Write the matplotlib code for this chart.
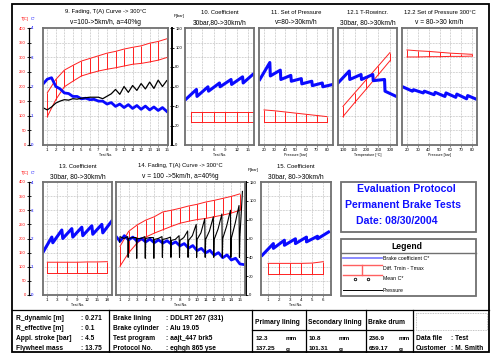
import numpy as np
import matplotlib
matplotlib.use("Agg")
import matplotlib.pyplot as plt
from matplotlib.patches import Rectangle

plt.rcParams['font.family'] = ['Liberation Sans', 'DejaVu Sans']

W, H = 495, 353
RED = '#ff2020'
BLUE = '#0a0aff'

# ---------------- data ----------------
# 9. fading, T(A) curve -> 300 C  (T in C, coefficient C*, pressure in bar)
p9_tests = list(range(1, 16))
p9_tmax = [178, 224, 256, 272, 287, 296, 305, 314, 320, 328, 334, 339, 348, 354, 363]
p9_tmin = [97, 155, 199, 218, 236, 245, 253, 259, 264, 270, 276, 279, 284, 290, 299]
p9_x = [0.55, 1, 1.5, 2, 2.5, 3, 3.5, 4, 4.5, 5, 5.5, 6, 6.5, 7, 7.5, 8,
        8.5, 9, 9.5, 10, 10.5, 11, 11.5, 12, 12.5, 13, 13.5, 14, 14.5, 15]
p9_coef = [2.1, 2.25, 2.3, 2.0, 1.92, 1.78, 1.76, 1.66, 1.66, 1.58, 1.6, 1.55,
           1.56, 1.5, 1.5, 1.4, 1.45, 1.32, 1.4, 1.28, 1.38, 1.25, 1.35, 1.22,
           1.33, 1.2, 1.3, 1.18, 1.28, 1.15]
p9_press = [38, 36, 39, 43, 45, 46.5, 46, 47.5, 47, 48, 48.5, 49, 49, 49, 47.5,
            50, 52.5, 57, 52, 60, 54, 61, 56, 63, 57.5, 64.5, 58, 66.5, 60, 66]

# 10. coefficient 30bar, 80->30km/h
p10_labels = ['1', '3', '6', '9', '12', '15']
p10_start = [1.55, 1.66, 1.84, 1.99, 2.07, 2.12]
p10_end = [1.90, 1.99, 2.12, 2.24, 2.33, 2.45]
p10_tmax = [114, 114, 114, 114, 114, 114]
p10_tmin = [77, 77, 77, 77, 77, 77]

# 11. set of pressure
p11_press = [20, 30, 40, 50, 60, 70, 80]
p11_start = [2.24, 2.36, 2.24, 2.18, 2.09, 2.03, 1.99]
p11_end = [2.82, 2.56, 2.38, 2.27, 2.18, 2.12, 2.07]
p11_tmax = [120, 117, 113, 109, 105, 101, 97]
p11_tmin = [77, 77, 77, 77, 77, 77, 77]

# 12.1 T-rowincr.
p121_temp = [100, 150, 200, 250, 300]
p121_start = [2.12, 2.24, 2.24, 2.20, 1.84]
p121_end = [2.53, 2.41, 2.41, 2.24, 1.66]
p121_tmax = [132, 178, 224, 270, 316]
p121_tmin = [97, 145, 192, 240, 288]

# 12.2 set of pressure 300 C
p122_press = [20, 30, 40, 50, 60, 70, 80]
p122_start = [1.99, 1.89, 1.84, 1.80, 1.78, 1.74, 1.69]
p122_end = [1.84, 1.78, 1.72, 1.66, 1.63, 1.58, 1.55]
p122_tmax = [325, 322, 320, 317, 314, 312, 310]
p122_tmin = [301, 301, 302, 302, 303, 303, 304]

# 13. coefficient
p13_labels = ['1', '3', '6', '9', '12', '15', '18']
p13_start = [1.50, 1.85, 2.00, 2.05, 2.10, 2.15, 2.20]
p13_end = [2.05, 2.30, 2.35, 2.40, 2.45, 2.50, 2.62]
p13_tmax = [116, 116, 116, 116, 117, 117, 118]
p13_tmin = [78, 78, 78, 78, 78, 78, 78]

# 14. fading, T(A) curve -> 300 C
p14_tests = list(range(1, 16))
p14_tmax = [172, 225, 248, 265, 277, 294, 300, 307, 315, 321, 329, 335, 342, 349, 358]
p14_tmin = [102, 149, 184, 205, 219, 231, 243, 254, 261, 267, 271, 277, 283, 290, 300]
p14_x = [0.6, 1, 1.5, 2, 2.5, 3, 3.5, 4, 4.5, 5, 5.5, 6, 6.5, 7, 7.5, 8, 8.5,
         9, 9.5, 10, 10.5, 11, 11.5, 12, 12.5, 13, 13.5, 14, 14.5, 15, 15.4]
p14_coef = [2.05, 1.9, 2.1, 1.95, 2.05, 1.9, 2.0, 1.88, 1.98, 1.85, 1.95, 1.84,
            1.92, 1.8, 1.88, 1.74, 1.82, 1.66, 1.75, 1.57, 1.65, 1.49, 1.58,
            1.41, 1.5, 1.32, 1.42, 1.24, 1.3, 1.1, 1.08]
p14_base = [62, 60, 60, 60, 59, 59, 58, 58, 58, 59, 59, 59, 60, 60, 62]
p14_mid = [60, 61, 60, 61, 60, 60, 59, 61, 63, 66, 68, 70, 73, 76, 85]
p14_peak = [62, 61, 62, 61, 62, 61.5, 63, 68, 75, 81, 83, 86, 90, 95, 110]
p14_dip = [56, 40, 39, 39, 39, 40, 40, 40, 40, 40, 40, 40, 40, 40, 40]

# 15. coefficient
p15_tests = [1, 2, 3, 4, 5, 6]
p15_start = [1.41, 1.65, 1.76, 1.82, 1.88, 1.99]
p15_end = [1.82, 1.94, 1.99, 2.05, 2.08, 2.23]
p15_tmax = [112, 112, 112, 112, 113, 118]
p15_tmin = [75, 75, 75, 75, 75, 75]

left_rows = [('R_dynamic [m]', ': 0.271'), ('R_effective [m]', ': 0.1'),
             ('Appl. stroke [bar]', ': 4.5'), ('Flywheel mass', ': 13.75')]
mid_rows = [('Brake lining', ': DDLRT 267 (331)'), ('Brake cylinder', ': Alu 19.05'),
            ('Test program', ': aajt_447 brk5'), ('Protocol No.', ': eghgh 865 yse')]
wear_cols = [('Primary lining', '12.3', '137.25'),
             ('Secondary lining', '10.8', '101.31'),
             ('Brake drum', '236.9', '659.17')]

# ---------------- helpers ----------------
fig = plt.figure(figsize=(W / 100, H / 100), dpi=100)
bg = fig.add_axes([0, 0, 1, 1])
bg.set_xlim(0, W)
bg.set_ylim(H, 0)
bg.axis('off')


def px(x0, y0, x1, y1):
    return [x0 / W, 1 - y1 / H, (x1 - x0) / W, (y1 - y0) / H]


def panel(rect, xlim, ticks, labels, xlabel, title, sub):
    ax = fig.add_axes(px(*rect))
    ax.set_xlim(*xlim)
    ax.set_ylim(0, 400)
    ax.set_xticks(ticks)
    ax.set_xticklabels(labels)
    ax.set_yticks(np.arange(50, 400, 50))
    ax.tick_params(axis='y', left=False, labelleft=False)
    ax.tick_params(axis='x', labelsize=3.2, length=1.5, width=0.5, pad=0.8,
                   color='#606060')
    ax.grid(True, color='#a8a8a8', linestyle=(0, (1, 1.2)), linewidth=0.5)
    ax.set_axisbelow(True)
    for s in ax.spines.values():
        s.set_color('#707070')
        s.set_linewidth(1.3)
    ax.set_xlabel(xlabel, fontsize=2.6, labelpad=0.6)
    cx = (rect[0] + rect[2]) / 2
    bg.text(cx, rect[1] - 16, title, fontsize=4.2, ha='center', va='center')
    bg.text(cx, rect[1] - 5, sub, fontsize=4.8, ha='center', va='center')
    return ax


def band(ax, x, lo, hi):
    ax.plot(x, hi, color=RED, lw=0.7)
    ax.plot(x, lo, color=RED, lw=0.7)
    ax.vlines(x, lo, hi, color=RED, lw=0.7)


def teeth(ax, x, start, end, before, after):
    xs, ys = [], []
    for xi, s, e in zip(x, start, end):
        xs += [xi - before, xi + after]
        ys += [s * 100, e * 100]
    ax.plot(xs, ys, color=BLUE, lw=2.2)


def left_axis(y0, y1):
    a = fig.add_axes(px(29, y0, 29.4, y1))
    a.patch.set_visible(False)
    a.set_ylim(0, 400)
    a.set_xticks([])
    a.set_yticks(np.arange(0, 401, 50))
    for k in ['top', 'right', 'bottom']:
        a.spines[k].set_visible(False)
    a.spines['left'].set_linewidth(0.9)
    a.tick_params(axis='y', direction='inout', length=2.5, width=0.6,
                  labelsize=3.0, labelcolor='red', pad=1)
    b = a.twinx()
    b.set_ylim(0, 4)
    b.set_yticks(range(5))
    for s in b.spines.values():
        s.set_visible(False)
    b.tick_params(axis='y', length=0, labelsize=3.2, labelcolor='blue', pad=1.2)
    bg.text(25, y0 - 9, 'T[C]', fontsize=3.0, color='red', ha='center', va='center')
    bg.text(33, y0 - 9.5, 'C*', fontsize=3.0, color='blue', ha='center', va='center')


def p_axis(x, y0, y1):
    a = fig.add_axes(px(x, y0, x + 0.4, y1))
    a.patch.set_visible(False)
    a.set_ylim(0, 120)
    a.set_xticks([])
    a.set_yticks(np.arange(0, 121, 20))
    for k in ['top', 'left', 'bottom']:
        a.spines[k].set_visible(False)
    a.spines['right'].set_linewidth(1.4)
    a.tick_params(axis='y', left=False, right=True, labelleft=False, labelright=True,
                  direction='inout', length=2.5, width=0.6, labelsize=3.0, pad=0.8)
    bg.text(x + 7, y0 - 12, 'P[bar]', fontsize=3.0, ha='center', va='center')


# ---------------- row 1 ----------------
left_axis(28, 145)
p_axis(172, 28, 145)

ax9 = panel((43, 28, 168, 145), (0.5, 15.15), p9_tests, [str(t) for t in p9_tests],
            'Test No.', '9. Fading, T(A) Curve -> 300°C', 'v=100->5km/h, a=40%g')
band(ax9, p9_tests, p9_tmin, p9_tmax)
ax9.plot(p9_x, np.array(p9_coef) * 100, color=BLUE, lw=2.0)
ax9.plot(p9_x, np.array(p9_press) * 400 / 120, color='black', lw=0.9)

pos10 = np.arange(1, len(p10_labels) + 1)
ax10 = panel((185, 28, 254, 145), (0.51, 6.49), pos10, p10_labels, 'Test No.',
             '10. Coefficient', '30bar,80->30km/h')
band(ax10, list(pos10) + [6.45], p10_tmin + [77], p10_tmax + [114])
teeth(ax10, pos10, p10_start, p10_end, 0.45, 0.5)

ax11 = panel((259, 28, 333, 145), (15.2, 85.7), p11_press, [str(p) for p in p11_press],
             'Pressure [bar]', '11. Set of Pressure', 'v=80->30km/h')
band(ax11, p11_press, p11_tmin, p11_tmax)
teeth(ax11, p11_press, p11_start, p11_end, 4, 5.5)

ax121 = panel((338, 28, 397, 145), (79, 330), p121_temp, [str(t) for t in p121_temp],
              'Temperature [°C]', '12.1 T-Rowincr.', '30bar, 80->30km/h')
band(ax121, p121_temp, p121_tmin, p121_tmax)
teeth(ax121, p121_temp, p121_start, p121_end, 21, 27)

ax122 = panel((402, 28, 477, 145), (15.4, 84.6), p122_press, [str(p) for p in p122_press],
              'Pressure [bar]', '12.2 Set of Pressure 300°C', 'v = 80->30 km/h')
band(ax122, p122_press, p122_tmin, p122_tmax)
teeth(ax122, p122_press, p122_start, p122_end, 4, 5)

# ---------------- row 2 ----------------
left_axis(182, 295)
p_axis(246, 182, 295)

pos13 = np.arange(1, len(p13_labels) + 1)
ax13 = panel((43, 182, 112, 295), (0.57, 7.47), pos13, p13_labels, 'Test No.',
             '13. Coefficient', '30bar, 80->30km/h')
band(ax13, pos13, p13_tmin, p13_tmax)
teeth(ax13, pos13, p13_start, p13_end, 0.45, 0.45)

ax14 = panel((116, 182, 245, 295), (0.53, 15.6), p14_tests, [str(t) for t in p14_tests],
             'Test No.', '14. Fading, T(A) Curve -> 300°C', 'v = 100 ->5km/h, a=40%g')
band(ax14, p14_tests, p14_tmin, p14_tmax)
ax14.plot(p14_x, np.array(p14_coef) * 100, color=BLUE, lw=2.0)
bx, by = [], []
for i, t in enumerate(p14_tests):
    end = 0.3 if i == len(p14_tests) - 1 else 0.9
    bx += [t - 0.05, t, t + end / 2, t + end]
    by += [p14_dip[i], p14_base[i], p14_mid[i], p14_peak[i]]
ax14.plot(bx, np.array(by) * 400 / 120, color='black', lw=0.8)

ax15 = panel((261, 182, 331, 295), (0.36, 6.7), p15_tests, [str(t) for t in p15_tests],
             'Test No.', '15. Coefficient', '30bar, 80->30km/h')
band(ax15, p15_tests, p15_tmin, p15_tmax)
teeth(ax15, p15_tests, p15_start, p15_end, 0.52, 0.48)

# ---------------- title box & legend ----------------
bg.add_patch(Rectangle((341, 182), 135, 50, fill=False, ec='#707070', lw=1.3))
for y, s, x in [(189, 'Evaluation Protocol', 406), (205, 'Permanent Brake Tests', 403),
                (221, 'Date: 08/30/2004', 397)]:
    bg.text(x, y, s, fontsize=7.6, fontweight='bold', color='#1010ff',
            ha='center', va='center')

bg.add_patch(Rectangle((341, 239), 135, 57, fill=False, ec='#707070', lw=1.3))
bg.plot([341, 476], [253, 253], color='#707070', lw=1.0)
bg.text(407, 246.5, 'Legend', fontsize=6.2, fontweight='bold', ha='center', va='center')
bg.plot([343, 382], [258, 258], color='#8080ff', lw=1.3)
bg.plot([343, 382], [265, 265], color='#ff6060', lw=1.0)
bg.plot([343, 382], [275, 275], color='#ff6060', lw=1.0)
bg.plot([362, 362], [265, 275], color='#ff6060', lw=1.0)
bg.plot([355, 368], [279, 279], ls='none', marker='o', ms=1.8, mfc='none',
        mec='black', mew=0.6)
bg.plot([343, 382], [290, 290], color='black', lw=0.7)
for y, s in [(258, 'Brake coefficient C*'), (269, 'Diff. Tmin - Tmax'),
             (279, 'Mean C*'), (290, 'Pressure')]:
    bg.text(383, y, s, fontsize=3.8, ha='left', va='center')

# ---------------- tables ----------------
bg.add_patch(Rectangle((12, 4), 477, 348, fill=False, ec='black', lw=1.3))
bg.plot([12, 489], [310, 310], color='black', lw=0.9)
for x in [109, 252, 306, 366, 413]:
    bg.plot([x, x], [310, 352], color='black', lw=0.9)
bg.plot([252, 413], [330, 330], color='black', lw=0.9)
bg.add_patch(Rectangle((416, 313), 71, 17, fill=False, ec='#b0b0b0', lw=0.6,
                       ls=(0, (1, 1))))

row_y = [318, 328.5, 339, 349]
for y, (k, v) in zip(row_y, left_rows):
    bg.text(16, y, k, fontsize=4.8, fontweight='bold', va='center')
    bg.text(81, y, v, fontsize=4.8, fontweight='bold', va='center')
for y, (k, v) in zip(row_y, mid_rows):
    bg.text(113, y, k, fontsize=4.8, fontweight='bold', va='center')
    bg.text(166, y, v, fontsize=4.8, fontweight='bold', va='center')
for x0, (name, mm, g) in zip([255, 308, 368], wear_cols):
    bg.text(x0, 322, name, fontsize=4.8, fontweight='bold', va='center')
    bg.text(x0 + 1, 338, mm, fontsize=4.6, fontweight='bold', va='center')
    bg.text(x0 + 1, 349, g, fontsize=4.6, fontweight='bold', va='center')
    bg.text(x0 + 31, 338, 'mm', fontsize=4.6, fontweight='bold', va='center')
    bg.text(x0 + 31, 349, 'g', fontsize=4.6, fontweight='bold', va='center')
bg.text(416, 339, 'Data file', fontsize=4.8, fontweight='bold', va='center')
bg.text(451, 339, ': Test', fontsize=4.8, fontweight='bold', va='center')
bg.text(416, 349, 'Customer', fontsize=4.8, fontweight='bold', va='center')
bg.text(451, 349, ': M. Smith', fontsize=4.8, fontweight='bold', va='center')

fig.savefig('out.png', dpi=100)
